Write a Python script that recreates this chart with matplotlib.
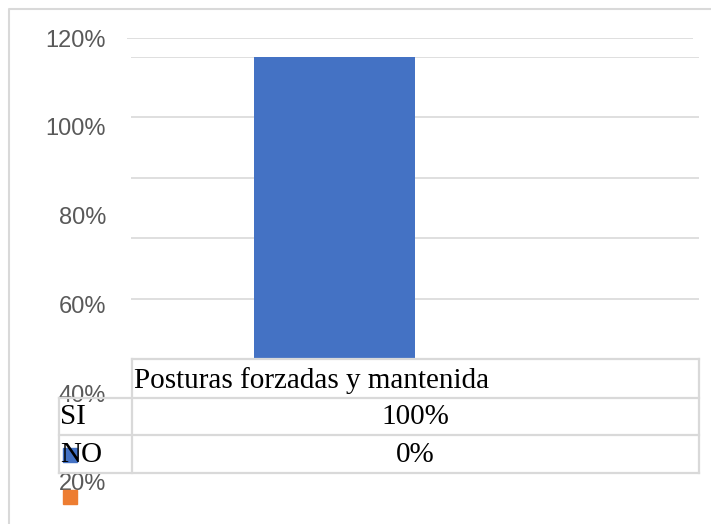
import matplotlib
matplotlib.use("Agg")
import matplotlib.pyplot as plt
from matplotlib.patches import Rectangle

# datos de la tabla / gráfico
categoria = "Posturas forzadas y mantenida"
series = ["SI", "NO"]
valores = [1.00, 0.00]
valores_txt = ["100%", "0%"]
colores = ["#4472C4", "#ED7D31"]
ticks_eje = [0.2, 0.4, 0.6, 0.8, 1.0, 1.2]
ticks_txt = ["20%", "40%", "60%", "80%", "100%", "120%"]

W, H = 711, 524
GRIS = "#d9d9d9"


def caja(x0, y0, x1, y1):
    # pixeles (origen arriba-izquierda) -> coordenadas de figura
    return [x0 / W, 1 - y1 / H, (x1 - x0) / W, (y1 - y0) / H]


fig = plt.figure(figsize=(W / 100, H / 100), dpi=100)

# eje "fantasma" con las etiquetas del eje Y (desalineadas como en el original)
ax_lab = fig.add_axes(caja(127, 38, 693, 482))
ax_lab.set_ylim(ticks_eje[0], ticks_eje[-1])
ax_lab.set_xlim(0, 1)
ax_lab.set_yticks(ticks_eje)
ax_lab.set_yticklabels(ticks_txt, fontsize=17, color="#595959",
                       family=["Liberation Sans", "DejaVu Sans"])
ax_lab.tick_params(axis="y", length=0, pad=15)
ax_lab.set_xticks([])
for s in ax_lab.spines.values():
    s.set_visible(False)
ax_lab.axhline(ticks_eje[-1], color=GRIS, lw=1.2)
ax_lab.patch.set_alpha(0)

# gráfico de barras
ax = fig.add_axes(caja(131, 57, 699, 359))
ax.patch.set_alpha(0)
ancho = 0.283
for i, (v, c) in enumerate(zip(valores, colores)):
    ax.bar((i - 0.5) * ancho, v, width=ancho, color=c, zorder=3)
ax.set_xlim(-0.5, 0.5)
ax.set_ylim(0, 1.0)
ax.set_yticks([0, 0.2, 0.4, 0.6, 0.8, 1.0])
ax.grid(axis="y", color=GRIS, lw=1.2, zorder=0)
ax.tick_params(length=0, labelleft=False, labelbottom=False)
for s in ax.spines.values():
    s.set_visible(False)

# capa superior: marco, tabla de datos y claves de leyenda (en pixeles)
top = fig.add_axes([0, 0, 1, 1])
top.set_xlim(0, W)
top.set_ylim(H, 0)
top.axis("off")
top.patch.set_alpha(0)

# marco del gráfico
top.plot([9, 9, W], [H, 9, 9], color=GRIS, lw=1.5)

# tabla de datos
lw_t = 1.6
top.plot([132, 699], [359, 359], color=GRIS, lw=lw_t)
top.plot([59, 699], [398, 398], color=GRIS, lw=lw_t)
top.plot([59, 699], [435, 435], color=GRIS, lw=lw_t)
top.plot([59, 699], [473, 473], color=GRIS, lw=lw_t)
top.plot([132, 132], [359, 473], color=GRIS, lw=lw_t)
top.plot([699, 699], [359, 473], color=GRIS, lw=lw_t)
top.plot([59, 59], [398, 473], color=GRIS, lw=lw_t)

serif = ["Liberation Serif", "DejaVu Serif"]
top.text(134, 381, categoria, fontsize=21, family=serif, va="center", ha="left")

filas_y = [417, 455]
claves_y = [448, 490]
for nombre, txt, c, fy, ky in zip(series, valores_txt, colores, filas_y, claves_y):
    top.add_patch(Rectangle((63, ky), 14, 14, color=c, zorder=1))
    top.text(60, fy, nombre, fontsize=21, family=serif, va="center", ha="left", zorder=2)
    top.text(415, fy, txt, fontsize=21, family=serif, va="center", ha="center", zorder=2)

fig.savefig("out.png", dpi=100)
